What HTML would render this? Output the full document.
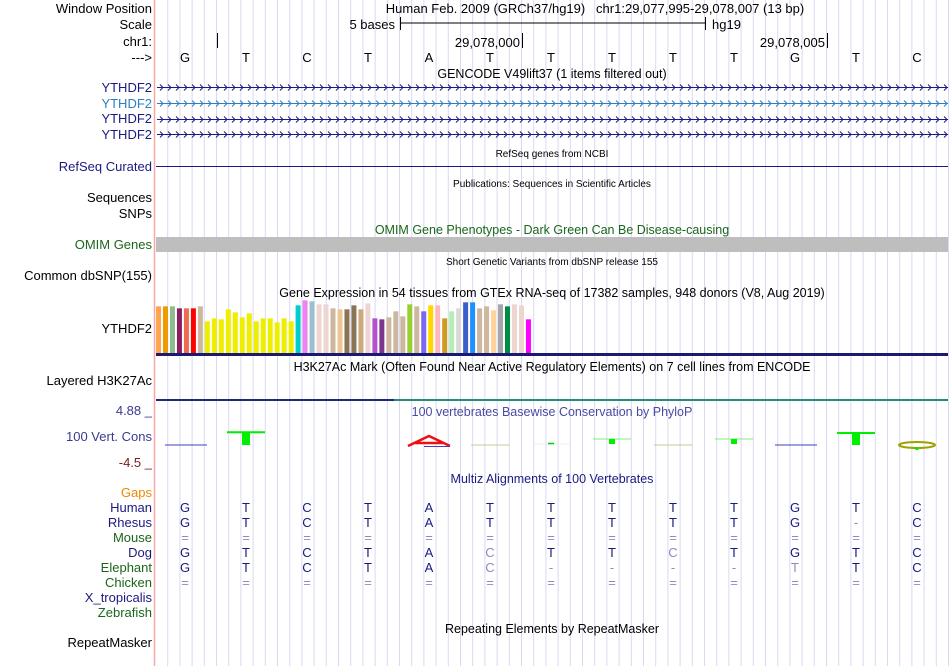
<!DOCTYPE html>
<html><head><meta charset="utf-8"><style>
html,body{margin:0;padding:0;background:#fff;}
svg{display:block;font-family:"Liberation Sans",sans-serif;}
</style></head><body>
<svg id="c" width="950" height="666" viewBox="0 0 950 666">
<g id="grid"></g>
<line x1="154.5" y1="0" x2="154.5" y2="666" stroke="#f4a8a8" stroke-width="1.5"/>
<g font-size="13" text-anchor="end" id="labels">
<text x="152" y="13" fill="#000">Window Position</text>
<text x="152" y="29" fill="#000">Scale</text>
<text x="152" y="46" fill="#000">chr1:</text>
<text x="152" y="62" fill="#000">---&gt;</text>
<text x="152" y="92" fill="#1a1a80">YTHDF2</text>
<text x="152" y="108" fill="#2a80c0">YTHDF2</text>
<text x="152" y="123" fill="#1a1a80">YTHDF2</text>
<text x="152" y="139" fill="#1a1a80">YTHDF2</text>
<text x="152" y="171" fill="#1a1a80">RefSeq Curated</text>
<text x="152" y="202" fill="#000">Sequences</text>
<text x="152" y="218" fill="#000">SNPs</text>
<text x="152" y="249" fill="#1a661a">OMIM Genes</text>
<text x="152" y="280" fill="#000">Common dbSNP(155)</text>
<text x="152" y="333" fill="#000">YTHDF2</text>
<text x="152" y="385" fill="#000">Layered H3K27Ac</text>
<text x="152" y="415" fill="#3a3a90">4.88 _</text>
<text x="152" y="441" fill="#3a3a90">100 Vert. Cons</text>
<text x="152" y="467" fill="#7a2020">-4.5 _</text>
<text x="152" y="497" fill="#ee8800">Gaps</text>
<text x="152" y="512" fill="#1a1a80">Human</text>
<text x="152" y="527" fill="#1a1a80">Rhesus</text>
<text x="152" y="542" fill="#1a661a">Mouse</text>
<text x="152" y="557" fill="#1a1a80">Dog</text>
<text x="152" y="572" fill="#1a661a">Elephant</text>
<text x="152" y="587" fill="#1a661a">Chicken</text>
<text x="152" y="602" fill="#1a1a80">X_tropicalis</text>
<text x="152" y="617" fill="#1a661a">Zebrafish</text>
<text x="152" y="647" fill="#000">RepeatMasker</text>
</g>
<g font-size="13" fill="#000">
<text x="595" y="13" text-anchor="middle">Human Feb. 2009 (GRCh37/hg19)&#160;&#160;&#160;chr1:29,077,995-29,078,007 (13 bp)</text>
<text x="395" y="29" text-anchor="end">5 bases</text>
<line x1="400" y1="23" x2="705" y2="23" stroke="#000"/>
<line x1="400.5" y1="17" x2="400.5" y2="30" stroke="#000"/>
<line x1="705.5" y1="17" x2="705.5" y2="30" stroke="#000"/>
<text x="712" y="29">hg19</text>
<line x1="217.5" y1="33" x2="217.5" y2="48" stroke="#000"/>
<text x="520" y="47" text-anchor="end">29,078,000</text>
<line x1="522.5" y1="33" x2="522.5" y2="48" stroke="#000"/>
<text x="825" y="47" text-anchor="end">29,078,005</text>
<line x1="827.5" y1="33" x2="827.5" y2="48" stroke="#000"/>
</g>
<g id="bases" font-size="13" text-anchor="middle"></g>
<g font-size="12.5" text-anchor="middle">
<text x="552" y="78" fill="#000">GENCODE V49lift37 (1 items filtered out)</text>
<text x="552" y="157" fill="#000" font-size="10">RefSeq genes from NCBI</text>
<text x="552" y="187" fill="#000" font-size="10">Publications: Sequences in Scientific Articles</text>
<text x="552" y="234" fill="#1a661a">OMIM Gene Phenotypes - Dark Green Can Be Disease-causing</text>
<text x="552" y="265" fill="#000" font-size="10">Short Genetic Variants from dbSNP release 155</text>
<text x="552" y="297" fill="#000">Gene Expression in 54 tissues from GTEx RNA-seq of 17382 samples, 948 donors (V8, Aug 2019)</text>
<text x="552" y="371" fill="#000">H3K27Ac Mark (Often Found Near Active Regulatory Elements) on 7 cell lines from ENCODE</text>
<text x="552" y="416" fill="#4a4aa0">100 vertebrates Basewise Conservation by PhyloP</text>
<text x="552" y="483" fill="#1a1a80">Multiz Alignments of 100 Vertebrates</text>
<text x="552" y="633" fill="#000">Repeating Elements by RepeatMasker</text>
</g>
<g id="genes"></g>
<line x1="156" y1="166.5" x2="948" y2="166.5" stroke="#1a1a80"/>
<rect x="156" y="237" width="792" height="15" fill="#bebebe"/>
<g id="gtex"></g>
<rect x="156" y="353" width="792" height="3" fill="#1a1a70"/>
<rect x="156" y="399" width="238" height="2" fill="#1a2a80"/>
<rect x="394" y="399" width="554" height="2" fill="#2a8a7a"/>
<g id="cons"></g>
<g id="multiz" font-size="13" text-anchor="middle"></g>
</svg>
<script>
const NS='http://www.w3.org/2000/svg';
const bases=['G','T','C','T','A','T','T','T','T','T','G','T','C'];
const gtexValues=[140,140,140,134,134,134,140,95,104,101,131,122,107,119,95,104,104,92,104,95,143,158,155,146,146,134,131,131,143,131,149,104,101,107,125,110,146,140,125,143,143,104,125,134,152,152,134,140,128,146,140,146,143,101];
const gtexColors=['#FFA54F','#EE9A00','#8FBC8F','#8B1C62','#EE6A50','#FF0000','#CDB79E','#EEEE00','#EEEE00','#EEEE00','#EEEE00','#EEEE00','#EEEE00','#EEEE00','#EEEE00','#EEEE00','#EEEE00','#EEEE00','#EEEE00','#EEEE00','#00CDCD','#EE82EE','#9AC0CD','#EED5D2','#EED5D2','#CDB79E','#EEC591','#8B7355','#8B7355','#CDAA7D','#EED5D2','#B452CD','#7A378B','#CDB79E','#CDB79E','#CDB79E','#9ACD32','#CDB79E','#7B68EE','#FFD700','#FFB6C1','#CD9B1D','#B4EEB4','#D9D9D9','#3A5FCD','#1E90FF','#CDB79E','#CDB79E','#FFD39B','#A6A6A6','#008B45','#EED5D2','#EED5D2','#FF00FF'];
const phyloP=[-0.1,1.6,0,0,-0.8,0.05,0.1,0.3,0.05,0.3,-0.1,1.5,-0.7];
const species=['Human','Rhesus','Mouse','Dog','Elephant','Chicken'];
const alignRows=['GTCTATTTTTGTC','GTCTATTTTTG-C','=============','GTCTACTTCTGTC','GTCTAC----TTC','============='];
function mk(tag,attrs,parent){const e=document.createElementNS(NS,tag);for(const k in attrs)e.setAttribute(k,attrs[k]);parent.appendChild(e);return e;}
const xBase=i=>185+61*i;
const grid=document.getElementById('grid');
for(let k=1;k<66;k++){const x=155.5+12.2*k;if(x>949)break;
const l=mk('line',{x1:x,y1:0,x2:x,y2:666,stroke:'#d8d8f4','stroke-width':1},grid);

}
const bg=document.getElementById('bases');
bases.forEach((b,i)=>{const t=mk('text',{x:xBase(i),y:62,fill:'#000'},bg);t.textContent=b;

});
const gg=document.getElementById('genes');
[[87,'#1a1a80'],[103,'#2a80c0'],[119,'#1a1a80'],[134,'#1a1a80']].forEach(([y,c],r)=>{
const g=mk('g',{},gg);


mk('line',{x1:157,y1:y+0.5,x2:948,y2:y+0.5,stroke:c},g);
let d='';for(let x=160;x<946;x+=8){d+=`M${x} ${y-2.5}L${x+3} ${y+0.5}L${x} ${y+3.5}`;}
mk('path',{d:d,stroke:c,fill:'none','stroke-width':1},g);});
const gt=document.getElementById('gtex');
const gBase=353, gScale=1/3;
gtexValues.forEach((v,i)=>{const h=v*gScale;
const r=mk('rect',{x:156+i*6.98,y:gBase-h,width:5,height:h,fill:gtexColors[i]},gt);

});
const cg=document.getElementById('cons');
const cBase=445, cScale=8;
phyloP.forEach((v,i)=>{const x=xBase(i);const g=mk('g',{},cg);


if(v>=0.5){const top=cBase-v*cScale;
mk('line',{x1:x-19,y1:top,x2:x+19,y2:top,stroke:'#00ee00','stroke-width':2},g);
mk('rect',{x:x-4,y:top,width:8,height:cBase-top,fill:'#00ee00'},g);}
else if(v>=0.15){const top=cBase-v*cScale*2.5;
mk('line',{x1:x-19,y1:top,x2:x+19,y2:top,stroke:'#7cf07c','stroke-width':1},g);
mk('rect',{x:x-3,y:top,width:6,height:5,fill:'#00ee00'},g);}
else if(v>=0.08){mk('line',{x1:x-18,y1:cBase-1,x2:x+18,y2:cBase-1,stroke:'#e6f6e6','stroke-width':1},g);
mk('line',{x1:x-3,y1:cBase-1.5,x2:x+3,y2:cBase-1.5,stroke:'#00cc00','stroke-width':1.5},g);}
else if(v>0.01){mk('line',{x1:x-19,y1:cBase,x2:x+19,y2:cBase,stroke:'#c8c890','stroke-width':1},g);}
else if(v<=-0.75){mk('path',{d:`M${x-21} ${cBase+1}L${x} ${cBase-9}L${x+21} ${cBase+1}M${x-14} ${cBase-2}L${x+14} ${cBase-2}`,stroke:'#ee1010',fill:'none','stroke-width':2.5},g);
mk('line',{x1:x-5,y1:cBase+1.5,x2:x+21,y2:cBase+1.5,stroke:'#4040c0'},g);}
else if(v<=-0.5){mk('ellipse',{cx:x,cy:cBase,rx:18,ry:3,stroke:'#a0a000',fill:'none','stroke-width':2},g);
mk('rect',{x:x-1.5,y:cBase+2,width:3,height:3,fill:'#00ee00'},g);}
else if(v<0){mk('line',{x1:x-20,y1:cBase,x2:x+22,y2:cBase,stroke:'#4040c0','stroke-width':1},g);}
});
const mg=document.getElementById('multiz');
alignRows.forEach((row,r)=>{const y=512+15*r;
row.split('').forEach((ch,i)=>{const match=ch===bases[i];
const col=(ch==='='||ch==='-'||!match)?'#8c8cc0':'#1a1a80';
const t=mk('text',{x:xBase(i),y:y,fill:col},mg);t.textContent=ch;

});});
</script>
</body></html>
